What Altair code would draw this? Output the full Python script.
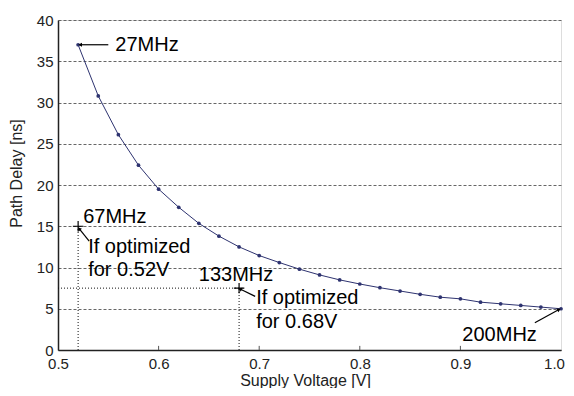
import math
import altair as alt
import pandas as pd

# Main curve: supply voltage [V] vs path delay [ns]
voltage = [0.52, 0.54, 0.56, 0.58, 0.60, 0.62, 0.64, 0.66, 0.68, 0.70, 0.72, 0.74, 0.76,
           0.78, 0.80, 0.82, 0.84, 0.86, 0.88, 0.90, 0.92, 0.94, 0.96, 0.98, 1.00]
delay = [37.0, 30.8, 26.1, 22.4, 19.5, 17.3, 15.35, 13.8, 12.5, 11.45, 10.6, 9.8, 9.1,
         8.5, 8.0, 7.55, 7.15, 6.75, 6.4, 6.2, 5.8, 5.6, 5.4, 5.2, 5.0]

# "If optimized" reference points
opt_v = [0.52, 0.68]
opt_d = [15.0, 7.5]

# Annotation texts
label_text = ["27MHz", "67MHz", "If optimized", "for 0.52V", "133MHz", "If optimized", "for 0.68V", "200MHz"]
label_x = [0.557, 0.525, 0.530, 0.530, 0.640, 0.697, 0.697, 0.976]
label_y = [37.0, 16.1, 12.5, 9.7, 9.1, 6.3, 3.4, 1.8]
label_align = ["left", "left", "left", "left", "left", "left", "left", "right"]

# Arrows (start -> tip)
arrow_x = [0.550, 0.531, 0.696, 0.974]
arrow_y = [37.0, 13.2, 6.5, 3.3]
arrow_x2 = [0.522, 0.521, 0.681, 0.998]
arrow_y2 = [37.0, 14.7, 7.4, 4.9]

# Guide (dotted) lines
guide_x = [0.52, 0.68, 0.50]
guide_y = [0.0, 0.0, 7.5]
guide_x2 = [0.52, 0.68, 0.68]
guide_y2 = [15.0, 7.5, 7.5]

x_ticks = [0.5, 0.6, 0.7, 0.8, 0.9, 1.0]
y_ticks = [0, 5, 10, 15, 20, 25, 30, 35, 40]
inner_ticks = [0.6, 0.7, 0.8, 0.9]

W, H = 503, 330
FONT = "Liberation Sans"

curve = pd.DataFrame({"v": voltage, "d": delay})
opt = pd.DataFrame({"v": opt_v, "d": opt_d})
labels = pd.DataFrame({"t": label_text, "x": label_x, "y": label_y, "a": label_align})
guides = pd.DataFrame({"x": guide_x, "y": guide_y, "x2": guide_x2, "y2": guide_y2})

# arrowhead angle computed in pixel space
sx = W / 0.5
sy = H / 40.0
angles = []
for x0, y0, x1, y1 in zip(arrow_x, arrow_y, arrow_x2, arrow_y2):
    dx = (x1 - x0) * sx
    dy = -(y1 - y0) * sy
    angles.append(math.degrees(math.atan2(dx, -dy)) % 360)
arrows = pd.DataFrame({"x": arrow_x, "y": arrow_y, "x2": arrow_x2, "y2": arrow_y2, "ang": angles})
ticks = pd.DataFrame({"x": inner_ticks, "y": [0.0] * 4, "y2": [0.5] * 4})

xs = alt.Scale(domain=[0.5, 1.0], nice=False, zero=False)
ys = alt.Scale(domain=[0, 40], nice=False)

xaxis = alt.Axis(values=x_ticks, format=".1f", title="Supply Voltage [V]", grid=False, ticks=False,
                 labelFontSize=15, labelPadding=6, labelColor="#222", labelFont=FONT,
                 labelOffset=alt.condition("datum.value >= 0.99", alt.value(-7), alt.value(0)),
                 titleFont=FONT, titleFontSize=16, titleFontWeight="normal", titleColor="#222",
                 titleX=247, titleY=35, titleBaseline="alphabetic",
                 domainColor="#222", domainWidth=1.5, labelFlush=False)
yaxis = alt.Axis(values=y_ticks, title="Path Delay [ns]", grid=True, gridDash=[3, 2], gridColor="#666",
                 gridWidth=1, ticks=False, labelFontSize=15, labelPadding=5, labelColor="#222",
                 labelFont=FONT, titleFont=FONT, titleFontSize=16, titleFontWeight="normal",
                 titleColor="#222", titleX=-42, titleY=153, titleBaseline="middle", titleAlign="center",
                 domainColor="#222", domainWidth=1.5)

base_grid = alt.Chart(curve).mark_line(color="#2e3370", strokeWidth=1).encode(
    x=alt.X("v:Q", scale=xs, axis=xaxis),
    y=alt.Y("d:Q", scale=ys, axis=yaxis),
)
pts = alt.Chart(curve).mark_point(filled=True, size=14, color="#2e3370", opacity=1).encode(
    x=alt.X("v:Q", scale=xs), y=alt.Y("d:Q", scale=ys)
)
guide_layer = alt.Chart(guides).mark_rule(color="#111", strokeWidth=1, strokeDash=[1, 2]).encode(
    x=alt.X("x:Q", scale=xs), y=alt.Y("y:Q", scale=ys), x2="x2:Q", y2="y2:Q"
)
cross = alt.Chart(opt).mark_point(shape="M -1 0 L 1 0 M 0 -1 L 0 1", size=110, color="#000",
                                  filled=False, strokeWidth=1.2, opacity=1).encode(
    x=alt.X("v:Q", scale=xs), y=alt.Y("d:Q", scale=ys)
)
arrow_lines = alt.Chart(arrows).mark_rule(color="#000", strokeWidth=1.2).encode(
    x=alt.X("x:Q", scale=xs), y=alt.Y("y:Q", scale=ys), x2="x2:Q", y2="y2:Q"
)
arrow_heads = alt.Chart(arrows).mark_point(shape="triangle-up", size=18, filled=True, color="#000",
                                           opacity=1).encode(
    x=alt.X("x2:Q", scale=xs), y=alt.Y("y2:Q", scale=ys), angle=alt.Angle("ang:Q", scale=None)
)
tick_layer = alt.Chart(ticks).mark_rule(color="#555", strokeWidth=1).encode(
    x=alt.X("x:Q", scale=xs), y=alt.Y("y:Q", scale=ys), y2="y2:Q"
)
text_left = alt.Chart(labels).transform_filter("datum.a == 'left'").mark_text(
    align="left", baseline="middle", font=FONT, fontSize=20, color="#000"
).encode(x=alt.X("x:Q", scale=xs), y=alt.Y("y:Q", scale=ys), text="t:N")
text_right = alt.Chart(labels).transform_filter("datum.a == 'right'").mark_text(
    align="right", baseline="middle", font=FONT, fontSize=20, color="#000"
).encode(x=alt.X("x:Q", scale=xs), y=alt.Y("y:Q", scale=ys), text="t:N")

chart = alt.layer(
    base_grid, guide_layer, tick_layer, pts, cross, arrow_lines, arrow_heads, text_left, text_right
).properties(
    width=W, height=H,
    autosize=alt.AutoSizeParams(type="none"),
    padding={"left": 50, "top": 12, "right": 5, "bottom": 38},
).configure_view(stroke="#555", strokeWidth=2).configure(background="white")

chart.save("out.html", embed_options={"renderer": "svg", "actions": False})
